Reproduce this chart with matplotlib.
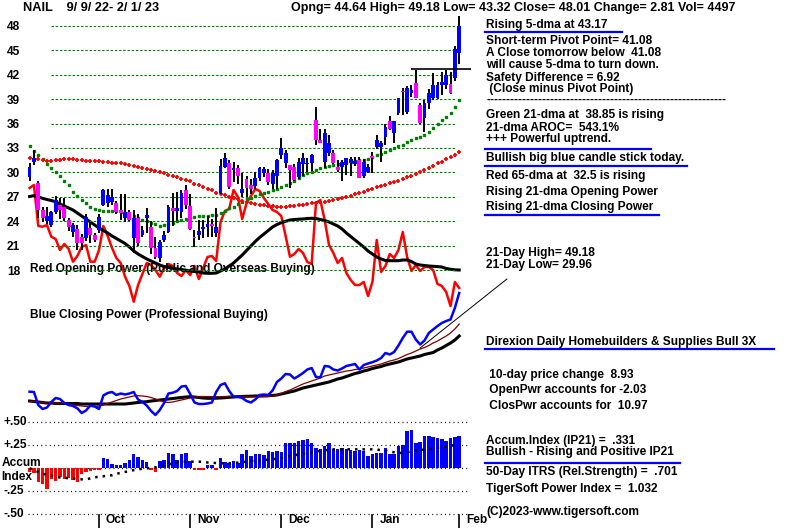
import matplotlib
matplotlib.use("Agg")
import matplotlib.pyplot as plt
from matplotlib.lines import Line2D
import numpy as np

# OHLC, 9/9/22 - 2/1/23 (100 trading days)
opens = [29.4, 31.3, 28.7, 25.4, 24.0, 23.5, 25.1, 26.0, 25.7, 24.2,
         22.7, 23.1, 22.0, 21.9, 23.2, 22.3, 22.9, 26.0, 26.2, 26.3,
         26.2, 25.4, 24.4, 25.1, 21.9, 24.4, 22.3, 24.4, 23.3, 20.7,
         19.5, 21.7, 22.7, 25.6, 25.2, 25.1, 27.8, 25.9, 22.1, 22.3,
         23.0, 23.3, 23.7, 22.6, 27.5, 30.7, 31.2, 30.3, 30.5, 27.5,
         29.2, 28.5, 28.3, 29.3, 29.9, 29.9, 28.6, 29.6, 32.1, 31.2,
         30.9, 30.7, 29.4, 31.0, 31.0, 31.2, 36.4, 34.0, 31.3, 32.4,
         32.4, 30.7, 30.7, 30.9, 31.2, 31.0, 31.5, 29.6, 30.0, 32.0,
         33.1, 33.1, 34.4, 36.3, 34.8, 37.3, 39.9, 37.4, 39.8, 41.0,
         38.3, 36.7, 38.5, 39.1, 39.1, 40.7, 40.7, 40.9, 41.6, 44.64]
highs = [31.1, 32.8, 28.9, 25.7, 25.8, 25.3, 27.1, 26.9, 26.9, 24.4,
         23.8, 23.5, 22.4, 24.9, 23.9, 22.6, 24.9, 27.9, 28.0, 27.9,
         26.5, 27.3, 27.3, 25.4, 25.4, 24.9, 23.4, 25.6, 24.0, 22.0,
         21.7, 22.8, 26.0, 27.5, 27.6, 27.8, 28.4, 27.3, 22.9, 24.2,
         24.1, 24.6, 24.3, 25.6, 31.7, 32.4, 31.5, 31.3, 30.9, 29.9,
         29.6, 29.2, 30.0, 30.7, 30.7, 30.4, 30.3, 31.7, 34.2, 32.7,
         30.9, 31.0, 31.8, 32.4, 31.8, 32.3, 38.0, 35.3, 35.3, 34.6,
         32.7, 31.5, 31.5, 31.6, 31.9, 31.9, 31.9, 31.6, 31.0, 32.5,
         34.6, 33.9, 36.0, 36.9, 36.3, 39.1, 40.4, 40.6, 40.8, 42.6,
         38.5, 38.9, 40.2, 42.2, 41.1, 42.3, 42.6, 42.3, 45.6, 49.18]
lows = [29.0, 30.9, 24.4, 23.9, 23.6, 23.3, 24.9, 24.3, 24.0, 22.8,
        22.0, 20.5, 20.5, 21.6, 21.3, 21.5, 22.5, 25.9, 25.8, 26.0,
        24.9, 24.2, 23.9, 24.0, 20.1, 21.0, 22.1, 22.6, 20.0, 19.3,
        19.0, 21.4, 22.5, 23.4, 24.0, 24.4, 25.5, 22.9, 20.8, 21.7,
        21.9, 22.1, 22.1, 22.1, 27.3, 30.5, 28.0, 28.8, 28.6, 27.0,
        27.0, 27.3, 27.9, 28.9, 29.4, 28.4, 28.0, 28.0, 31.7, 30.6,
        28.1, 29.0, 29.2, 29.6, 30.0, 30.2, 33.4, 33.6, 30.6, 32.0,
        31.0, 30.1, 29.0, 29.7, 29.5, 30.8, 29.3, 29.3, 29.9, 29.96,
        32.9, 31.3, 33.4, 35.2, 33.6, 37.0, 37.1, 37.2, 39.3, 39.1,
        35.9, 35.0, 37.8, 38.9, 39.0, 39.5, 40.3, 39.6, 41.2, 43.32]
closes = [30.7, 31.8, 25.4, 24.4, 24.6, 25.1, 26.6, 25.4, 24.4, 23.3,
          23.5, 21.3, 21.3, 24.5, 22.3, 21.7, 24.5, 27.8, 27.2, 27.0,
          25.1, 25.0, 25.1, 24.2, 24.4, 21.3, 22.9, 24.8, 20.7, 19.6,
          21.4, 22.3, 25.7, 25.2, 25.6, 27.5, 26.0, 23.0, 21.9, 22.8,
          23.3, 23.6, 23.4, 23.3, 30.8, 31.8, 28.2, 30.5, 29.5, 28.0,
          28.1, 28.0, 29.3, 30.5, 30.4, 28.8, 29.9, 31.5, 33.0, 32.4,
          30.3, 29.1, 31.3, 31.8, 31.2, 32.1, 34.0, 33.6, 34.8, 33.6,
          31.2, 30.3, 31.3, 31.8, 31.6, 31.4, 29.3, 31.3, 30.7, 31.8,
          34.0, 33.6, 35.6, 35.3, 36.3, 39.1, 39.8, 40.4, 40.1, 39.1,
          36.1, 38.5, 39.8, 40.7, 40.7, 41.1, 42.0, 39.8, 45.2, 48.01]

# 21-dma (green dots) and 65-dma (red crosses)
ma21 = [33.2, 32.6, 32.1, 31.6, 31.0, 30.6, 30.1, 29.5, 29.0, 28.4,
        27.6, 27.1, 26.6, 26.2, 25.8, 25.5, 25.4, 25.3, 25.3, 25.3,
        25.2, 25.1, 25.0, 24.8, 24.6, 24.4, 24.2, 24.0, 23.8, 23.6,
        23.4, 23.5, 23.7, 23.8, 24.0, 24.1, 24.3, 24.4, 24.5, 24.6,
        24.6, 24.7, 24.8, 24.8, 25.0, 25.3, 25.6, 25.8, 26.1, 26.4,
        26.7, 26.9, 27.1, 27.3, 27.5, 27.6, 27.8, 28.0, 28.2, 28.5,
        28.7, 29.0, 29.3, 29.7, 29.9, 30.1, 30.3, 30.5, 30.7, 30.8,
        30.9, 31.0, 31.1, 31.2, 31.3, 31.4, 31.5, 31.5, 31.7, 31.9,
        32.1, 32.3, 32.5, 32.7, 33.0, 33.2, 33.4, 33.7, 34.0, 34.2,
        34.4, 34.6, 35.0, 35.5, 35.9, 36.4, 36.8, 37.3, 38.0, 38.85]
ma65 = [31.8, 31.7, 31.6, 31.5, 31.4, 31.4, 31.5, 31.5, 31.6, 31.6,
        31.6, 31.5, 31.5, 31.4, 31.4, 31.4, 31.4, 31.3, 31.3, 31.2,
        31.2, 31.1, 31.0, 30.9, 30.8, 30.7, 30.5, 30.4, 30.3, 30.2,
        30.0, 29.9, 29.7, 29.6, 29.4, 29.2, 29.1, 28.9, 28.6, 28.4,
        28.2, 28.0, 27.8, 27.5, 27.3, 27.2, 27.0, 26.8, 26.7, 26.5,
        26.4, 26.2, 26.1, 26.0, 26.0, 25.9, 25.9, 25.8, 25.8, 25.8,
        25.9, 25.9, 26.0, 26.0, 26.1, 26.2, 26.2, 26.3, 26.4, 26.5,
        26.6, 26.7, 26.9, 27.0, 27.1, 27.3, 27.5, 27.6, 27.8, 28.0,
        28.2, 28.3, 28.5, 28.7, 28.8, 29.0, 29.2, 29.4, 29.6, 29.8,
        30.0, 30.3, 30.5, 30.8, 31.1, 31.3, 31.6, 31.9, 32.2, 32.5]

# Opening power (red) and its average (black), arbitrary units
open_pwr = [232, 235, 194, 193.3, 195, 183.3, 181, 170, 176, 171,
            158.3, 164, 173, 175, 158.3, 158.3, 170, 194, 184, 172,
            162, 157, 143.3, 134, 118.3, 135, 146, 157, 155, 150,
            143.3, 152, 156, 154, 147, 144, 150, 145, 154, 141,
            152, 163, 164, 159, 198, 209, 211, 230, 223, 201,
            217, 224, 231, 229, 222, 216, 210, 208, 204, 184,
            163.3, 166, 171, 167, 158, 156, 217, 220, 200, 175,
            167, 157, 162, 147, 140, 135, 135, 138, 124, 138,
            180, 148, 154, 166, 162, 170, 188, 163, 149, 155,
            149, 153, 153, 150, 136, 134, 128, 114, 138, 132]
open_pwr_ma = [223.5, 224.3, 223, 221.7, 220.5, 219.5, 218.3, 216, 214, 212,
               210, 207, 204, 201, 198, 195, 192, 189.5, 187, 184,
               181.5, 179, 176.5, 173, 169, 166, 163.5, 161, 159, 157,
               155, 153.5, 152.5, 151.7, 151, 150.5, 149.8, 149, 148.5, 148,
               147, 146.7, 146.7, 147, 149, 151, 154, 157, 161, 165,
               169.5, 174, 178.5, 182.5, 186, 189.5, 193, 195.5, 197.3, 198.7,
               200, 200.5, 200.8, 201, 201.5, 201.7, 201.5, 200.5, 199.5, 198,
               196, 194, 191, 187, 183.5, 180, 176.5, 173, 169, 166,
               163, 161, 159.5, 159.3, 159.3, 159.3, 160, 160, 158.5, 156,
               155, 154.5, 154, 153.7, 153.4, 153, 151.5, 150.7, 150.2, 150]

# Closing power (blue), its 21-dma (maroon) and longer average (black)
close_pwr = [28.3, 28, 15, 11, 12.5, 18, 22, 21, 17, 15,
             14, 11.7, 7, 9.5, 14.5, 13.5, 11, 24.5, 27, 28,
             25, 26.5, 25.5, 26.5, 28, 20.5, 18, 14.5, 9, 5,
             10, 17, 26.5, 27.3, 29, 33.5, 34, 26, 17.5, 16,
             16, 16.5, 17.5, 28, 35, 36.7, 29, 23.3, 23.3, 22,
             19, 17.5, 20.5, 25, 25.5, 25, 29.5, 38, 41.5, 46,
             45.5, 41.5, 44, 47, 50.5, 52, 43, 42.7, 54, 53.5,
             50.5, 49.5, 51.5, 54, 55, 56, 50.5, 55, 56.5, 57.8,
             59.5, 62, 67, 65.5, 68, 74.5, 82, 88.3, 88.3, 80.5,
             75.5, 79.5, 87, 90.5, 94, 97, 99, 100.5, 112, 127]
close_pwr_ma = [18.5, 18.5, 18, 17.5, 17, 17, 17, 17, 16.5, 16,
                15, 14.5, 14, 13.5, 13.5, 13.5, 14, 15, 16.5, 18,
                19.5, 21, 22, 23, 24, 24.3, 24, 23.5, 22.5, 21,
                19.5, 18, 17.5, 18, 19, 20, 21, 22, 23, 23.5,
                23.5, 23.5, 23.3, 23.3, 23.3, 23.5, 23.7, 23.7, 23.5, 23.3,
                23.3, 23.3, 23.3, 23.3, 23.3, 23.5, 24, 25, 26.5, 28.5,
                30, 32, 34, 36, 37.5, 39, 40.5, 42, 44, 45,
                46, 47, 48, 49, 49.5, 50.5, 51, 52, 53, 54,
                55, 56, 57.5, 59, 60, 61.5, 63.5, 65.5, 67, 69,
                71, 72.5, 74.5, 77, 79, 81.5, 84, 87, 91, 96]
close_pwr_long = [19, 18.5, 18, 17.5, 17, 17, 16.5, 16.5, 16.5, 16.5,
                  16.5, 16.5, 16, 16, 16, 16, 16, 16, 16, 16,
                  16, 16, 16, 16.5, 17, 17.5, 18, 18.3, 19, 19.5,
                  20, 20.5, 21, 21.5, 22, 22.5, 23, 23.3, 23, 22.5,
                  22, 21.7, 21.7, 21.8, 22, 22.3, 22.7, 23, 23.3, 23.5,
                  23.7, 23.8, 24, 24, 24.2, 24.3, 24.5, 25, 26, 27,
                  28, 29, 30.5, 32, 33, 34, 35, 36, 37, 38,
                  39.5, 41, 42, 43.5, 45, 46.5, 47.5, 49, 50, 51.5,
                  52.5, 53.5, 55, 56, 57, 58, 59.5, 61, 62, 63,
                  64, 65.5, 66.5, 67.5, 70, 72, 74.5, 77, 80, 84]
cp_trend_x = [90, 110]
cp_trend_y = [72, 141]
resist_level = 42.7
resist_x = [88, 101.7]

# Accumulation index (IP21) and its average
accum = [-0.04, -0.05, -0.15, -0.17, -0.22, -0.12, -0.14, -0.10, -0.12, -0.11,
         -0.13, -0.15, -0.06, -0.04, -0.03, -0.02, -0.02, 0.11, 0.10, 0.05,
         0.04, 0.04, 0.06, 0.09, 0.16, 0.12, 0.09, 0.07, -0.02, -0.04,
         0.08, 0.09, 0.17, 0.15, 0.09, 0.15, 0.17, 0.08, -0.02, -0.02,
         -0.02, 0.04, 0.04, -0.02, 0.11, 0.07, 0.06, 0.08, 0.06, 0.16,
         0.20, 0.13, 0.15, 0.16, 0.14, 0.19, 0.18, 0.19, 0.18, 0.28,
         0.28, 0.27, 0.30, 0.31, 0.32, 0.28, 0.22, 0.21, 0.24, 0.27,
         0.21, 0.21, 0.22, 0.21, 0.20, 0.19, 0.20, 0.19, 0.13, 0.16,
         0.17, 0.17, 0.22, 0.16, 0.16, 0.24, 0.25, 0.40, 0.42, 0.28,
         0.29, 0.35, 0.35, 0.34, 0.33, 0.32, 0.30, 0.33, 0.34, 0.35]
accum_ma = [0.0, -0.02, -0.04, -0.06, -0.07, -0.08, -0.09, -0.10, -0.10, -0.11,
            -0.11, -0.12, -0.12, -0.12, -0.11, -0.10, -0.09, -0.087, -0.08, -0.076,
            -0.06, -0.05, -0.04, -0.03, -0.02, -0.013, -0.005, 0.0, 0.005, 0.01,
            0.018, 0.03, 0.042, 0.053, 0.062, 0.069, 0.072, 0.072, 0.072, 0.072,
            0.069, 0.063, 0.062, 0.056, 0.054, 0.054, 0.054, 0.058, 0.062, 0.069,
            0.072, 0.078, 0.082, 0.083, 0.089, 0.094, 0.098, 0.105, 0.11, 0.123,
            0.134, 0.141, 0.15, 0.158, 0.165, 0.172, 0.181, 0.19, 0.196, 0.20,
            0.206, 0.206, 0.206, 0.206, 0.206, 0.206, 0.206, 0.206, 0.206, 0.206,
            0.203, 0.197, 0.192, 0.181, 0.174, 0.167, 0.167, 0.174, 0.185, 0.192,
            0.20, 0.203, 0.206, 0.216, 0.223, 0.228, 0.234, 0.243, 0.254, 0.268]

price_ticks = [18, 21, 24, 27, 30, 33, 36, 39, 42, 45, 48]
months = ['Oct', 'Nov', 'Dec', 'Jan', 'Feb']
month_idx = [16, 37, 58, 79, 99]
acc_levels = [0.5, 0.25, 0.0, -0.25, -0.5]
acc_labels = ['+.50', '+.25', None, '-.25', '-.50']

W, H = 800, 528
FONT = ['Liberation Sans', 'DejaVu Sans']
FS = 8.6
idx = np.arange(len(closes))

fig = plt.figure(figsize=(W / 100, H / 100), dpi=100)
fig.patch.set_facecolor('white')


def fbox(x0, y0, x1, y1):
    return [x0 / W, 1 - y1 / H, (x1 - x0) / W, (y1 - y0) / H]


def ftext(x, y, s, **kw):
    opts = dict(ha='left', va='center', fontsize=FS, fontweight='bold', family=FONT)
    opts.update(kw)
    fig.text(x / W, 1 - y / H, s, **opts)


def uline(x0, x1, y, color='#0000ff', lw=1.6):
    fig.add_artist(Line2D([x0 / W, x1 / W], [1 - y / H] * 2, color=color, lw=lw))


xlim = (-2.21, 101.95)

# ---- price panel
ax = fig.add_axes(fbox(20, 5, 472, 420))
ax.set_xlim(*xlim)
ax.set_ylim(-0.44, 50.58)
ax.patch.set_alpha(0)
for s in ax.spines.values():
    s.set_visible(False)
ax.set_xticks([])
ax.set_yticks(price_ticks)
ax.set_yticklabels([str(t) for t in price_ticks], fontsize=8.6,
                   fontweight='bold', family=FONT)
ax.tick_params(axis='y', length=0, pad=0)
ax.hlines(price_ticks, 5, 98, colors='#008000', linestyles=(0, (2.2, 1.6)),
          lw=0.8, zorder=1)

# opening / closing power share the panel on their own scale
axp = ax.twinx()
axp.set_ylim(0, 415)
axp.set_xlim(*xlim)
axp.axis('off')
axp.plot(idx, open_pwr, color='#ff0000', lw=1.8, zorder=3)
axp.plot(idx, open_pwr_ma, color='black', lw=2.2, zorder=3)
axp.plot(idx, close_pwr_long, color='black', lw=2.2, zorder=3)
axp.plot(idx, close_pwr_ma, color='#800000', lw=0.9, zorder=3)
axp.plot(idx, close_pwr, color='#0000ff', lw=1.8, zorder=4)
axp.plot(cp_trend_x, cp_trend_y, color='black', lw=0.7, clip_on=False, zorder=4)

ax.set_zorder(axp.get_zorder() + 1)
ax.plot(idx, ma21, ls='none', marker='s', ms=1.8, color='#008000', zorder=4)
ax.plot(idx, ma65, ls='none', marker='+', ms=3.2, mew=1.3, color='#ff0000', zorder=4)

o = np.array(opens)
c = np.array(closes)
ax.vlines(idx, lows, highs, color='black', lw=1.4, zorder=5)
body = np.where(np.abs(c - o) < 0.15, 0.15, c - o)
ax.bar(idx, body, bottom=o, width=0.88,
       color=np.where(c >= o, '#0000ff', '#ff00ff'), zorder=6)
ax.hlines(resist_level, *resist_x, color='black', lw=1.2, zorder=6, clip_on=False)

ftext(30, 269, 'Red Opening Power (Public and Overseas Buying)', zorder=0)
ftext(30, 315, 'Blue Closing Power (Professional Buying)', zorder=0)

# ---- accumulation panel
axa = fig.add_axes(fbox(20, 400, 472, 528))
axa.set_xlim(*xlim)
axa.set_ylim(-0.649, 0.742)
axa.patch.set_alpha(0)
axa.axis('off')
axa.hlines(acc_levels, -0.4, 101.5, colors='black', linestyles=(0, (0.8, 2.6)), lw=0.9)
acc = np.array(accum)
axa.bar(idx, acc, width=0.8, color=np.where(acc >= 0, '#0000ff', '#ff0000'), zorder=3)
axa.plot(idx, accum_ma, color='black', ls=(0, (1, 2)), lw=1.8, zorder=4)
for lev, lab in zip(acc_levels, acc_labels):
    if lab:
        axa.text(-0.037, lev, lab, transform=axa.get_yaxis_transform(),
                 ha='left', va='center', fontsize=FS, fontweight='bold', family=FONT)
axa.text(-0.041, 0.058, 'Accum', transform=axa.get_yaxis_transform(),
         ha='left', va='center', fontsize=FS, fontweight='bold', family=FONT)
axa.text(-0.041, -0.095, 'Index', transform=axa.get_yaxis_transform(),
         ha='left', va='center', fontsize=FS, fontweight='bold', family=FONT)
for m, i in zip(months, month_idx):
    axa.axvline(i, 0, 0.1, color='black', lw=1.2)
    axa.annotate(m, (i, 0.06), xycoords=('data', 'axes fraction'),
                 xytext=(5, 0), textcoords='offset points', ha='left',
                 va='center', fontsize=FS, fontweight='bold', family=FONT)

# ---- header and right-hand notes
ftext(23, 8, 'NAIL    9/ 9/ 22- 2/ 1/ 23', fontsize=9.2)
ftext(291, 8, 'Opng= 44.64 High= 49.18 Low= 43.32 Close= 48.01 Change= 2.81 Vol= 4497',
      fontsize=9.0)

ftext(486, 25, 'Rising 5-dma at 43.17')
uline(485, 622, 32)
ftext(486, 41, 'Short-term Pivot Point= 41.08')
ftext(486, 53, 'A Close tomorrow below  41.08')
ftext(486, 65, 'will cause 5-dma to turn down.')
ftext(486, 78, 'Safety Difference = 6.92')
ftext(486, 89, ' (Close minus Pivot Point)')
ftext(486, 100, '-' * 60)
ftext(486, 115, 'Green 21-dma at  38.85 is rising')
ftext(486, 128, '21-dma AROC=  543.1%')
ftext(486, 139, '+++ Powerful uptrend.')
uline(485, 651, 149)
ftext(486, 158, 'Bullish big blue candle stick today.')
uline(485, 687, 165.5)
ftext(486, 176, 'Red 65-dma at  32.5 is rising')
ftext(486, 192, 'Rising 21-dma Opening Power')
ftext(486, 207, 'Rising 21-dma Closing Power')
uline(485, 659, 215)

ftext(486, 253, '21-Day High= 49.18')
ftext(486, 265, '21-Day Low= 29.96')
ftext(486, 342, 'Direxion Daily Homebuilders & Supplies Bull 3X')
uline(485, 774, 348.5)
ftext(486, 375, ' 10-day price change  8.93')
ftext(486, 390, ' OpenPwr accounts for -2.03')
ftext(486, 406, ' ClosPwr accounts for  10.97')
ftext(486, 441, 'Accum.Index (IP21) =  .331')
ftext(486, 452, 'Bullish - Rising and Positive IP21')
uline(485, 680, 462.5)
ftext(486, 472, '50-Day ITRS (Rel.Strength) =  .701')
ftext(486, 489, 'TigerSoft Power Index =  1.032')
ftext(486, 512, '(C)2023-www.tigersoft.com')

fig.savefig('out.png', dpi=100, facecolor='white')
